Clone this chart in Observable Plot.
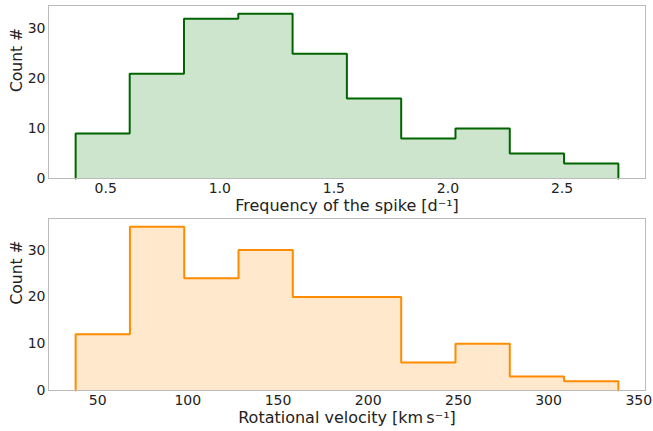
<!DOCTYPE html>
<html>
<head>
<meta charset="utf-8">
<script src="https://cdn.jsdelivr.net/npm/d3@7"></script>
<script src="https://cdn.jsdelivr.net/npm/@observablehq/plot@0.6"></script>
<style>
  html, body { margin: 0; padding: 0; background: #fff; }
  #chart svg { display: block; overflow: visible; }
</style>
</head>
<body>
<div id="chart"></div>
<script>
// Top panel: frequency of the spike (bin edges and counts)
const freqEdges = [0.368, 0.605, 0.843, 1.081, 1.319, 1.557, 1.795, 2.033, 2.271, 2.509, 2.747];
const freqCounts = [9, 21, 32, 33, 25, 16, 8, 10, 5, 3];
const freqTicks = [0.5, 1.0, 1.5, 2.0, 2.5];

// Bottom panel: rotational velocity
const velEdges = [37.8, 67.9, 98.0, 128.1, 158.2, 188.3, 218.3, 248.4, 278.5, 308.6, 338.7];
const velCounts = [12, 35, 24, 30, 20, 20, 6, 10, 3, 2];
const velTicks = [50, 100, 150, 200, 250, 300, 350];

const countTicks = [0, 10, 20, 30];

function histPanel({edges, counts, ticks, tickFormat, xLabel, fill, stroke, height, marginTop, marginBottom, labelDy}) {
  const n = counts.length;
  const step = [{x: edges[0], y: 0}];
  counts.forEach((c, i) => { step.push({x: edges[i], y: c}); step.push({x: edges[i + 1], y: c}); });
  step.push({x: edges[n], y: 0});
  const lo = edges[0], hi = edges[n], pad = (hi - lo) * 0.05;
  const ymax = d3.max(counts) * 1.05;
  return Plot.plot({
    width: 653,
    height,
    marginLeft: 48,
    marginRight: 8,
    marginTop,
    marginBottom,
    style: {fontFamily: "DejaVu Sans", color: "#222", background: "#fff", overflow: "visible"},
    x: {domain: [lo - pad, hi + pad], ticks, tickFormat},
    y: {domain: [0, ymax], ticks: countTicks},
    marks: [
      Plot.area(step, {x1: "x", y1: 0, y2: "y", fill}),
      Plot.line(step, {x: "x", y: "y", stroke, strokeWidth: 2, strokeLinejoin: "miter"}),
      Plot.frame({stroke: "#bbb", strokeWidth: 1}),
      Plot.axisX({ticks, tickFormat, tickSize: 0, tickPadding: 5, fontSize: 14, label: null}),
      Plot.axisY({ticks: countTicks, tickSize: 0, tickPadding: 3, fontSize: 14, label: null}),
      Plot.text([xLabel], {text: d => d, frameAnchor: "bottom", dy: labelDy, fontSize: 16, lineAnchor: "middle"}),
      Plot.text(["Count #"], {text: d => d, frameAnchor: "left", dx: -31, rotate: -90, fontSize: 15.5, lineAnchor: "middle"})
    ]
  });
}

const chart = document.getElementById("chart");
chart.append(histPanel({
  edges: freqEdges, counts: freqCounts, ticks: freqTicks, tickFormat: d3.format(".1f"),
  xLabel: "Frequency of the spike [d\u207B\u00B9]", fill: "#cde5cd", stroke: "#006400",
  height: 215, marginTop: 5, marginBottom: 37, labelDy: 27
}));
chart.append(histPanel({
  edges: velEdges, counts: velCounts, ticks: velTicks, tickFormat: d3.format("d"),
  xLabel: "Rotational velocity [km\u2009s\u207B\u00B9]", fill: "#ffe8cc", stroke: "#ff8c00",
  height: 216, marginTop: 3, marginBottom: 41, labelDy: 27
}));
</script>
</body>
</html>
